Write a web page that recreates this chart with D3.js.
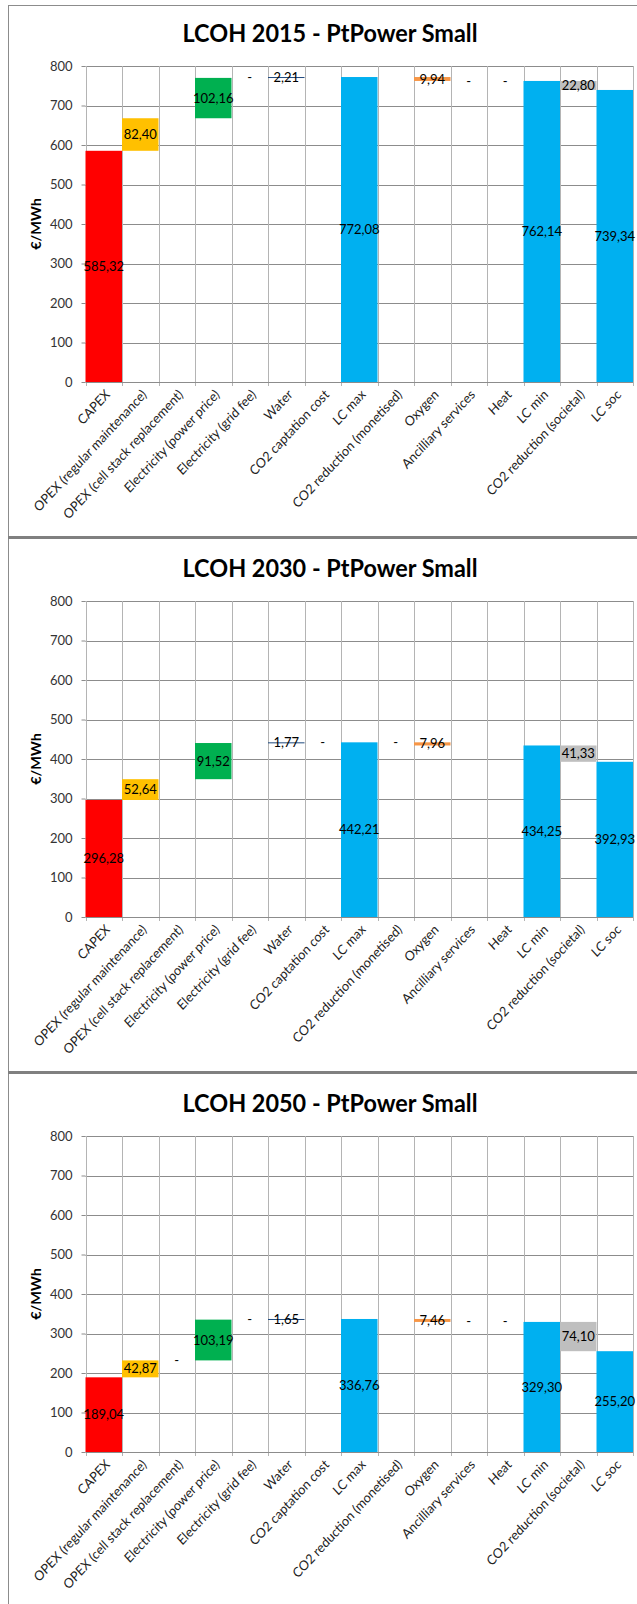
<!DOCTYPE html>
<html>
<head>
<meta charset="utf-8">
<script src="https://cdn.jsdelivr.net/npm/d3@7"></script>
<style>
  html, body { margin: 0; padding: 0; background: #fff; }
  svg { display: block; }
</style>
</head>
<body>
<script>
// Cost categories of the levelised cost of hydrogen (LCOH) waterfall
const categories = [
  "CAPEX",
  "OPEX (regular maintenance)",
  "OPEX (cell stack replacement)",
  "Electricity (power price)",
  "Electricity (grid fee)",
  "Water",
  "CO2 captation cost",
  "LC max",
  "CO2 reduction (monetised)",
  "Oxygen",
  "Ancilliary services",
  "Heat",
  "LC min",
  "CO2 reduction (societal)",
  "LC soc"
];

// How each step moves the running total: add, subtract, or a full total bar
const stepKinds = ["up", "up", "up", "up", "up", "up", "up", "total",
                   "down", "down", "down", "down", "total", "down", "total"];

const stepColors = ["#FF0000", "#FFC000", "#FFC000", "#00B050", "#00B050",
                    "#1F497D", "#7F7F7F", "#00B0F0", "#9BBB59", "#F79646",
                    "#8064A2", "#C0504D", "#00B0F0", "#BFBFBF", "#00B0F0"];

// €/MWh per category (null = no entry, 0 = shown as "-")
const years = ["2015", "2030", "2050"];
const values2015 = [585.32, 82.40, null, 102.16, 0, 2.21, null, 772.08, null, 9.94, 0, 0, 762.14, 22.80, 739.34];
const values2030 = [296.28, 52.64, null, 91.52, null, 1.77, 0, 442.21, 0, 7.96, null, null, 434.25, 41.33, 392.93];
const values2050 = [189.04, 42.87, 0, 103.19, 0, 1.65, null, 336.76, null, 7.46, 0, 0, 329.30, 74.10, 255.20];
const yTicks = [0, 100, 200, 300, 400, 500, 600, 700, 800];

const panels = [
  { year: years[0], values: values2015 },
  { year: years[1], values: values2030 },
  { year: years[2], values: values2050 }
];

const W = 637, H = 1604;
const svg = d3.select("body").append("svg").attr("width", W).attr("height", H);

const panelStep = 535;
const plotLeft = 85.5, plotRight = 633;
const plotTop = 66, plotBottom = 382;
const FONT = "Lato, 'Open Sans', sans-serif";
const stretch = 1.08; // text in these charts is drawn slightly taller than wide

// Chart frames and the shadowed separators between them
const frameColor = "#8c8c8c";
svg.append("line").attr("x1", 8.5).attr("x2", 8.5).attr("y1", 5).attr("y2", H)
  .attr("stroke", frameColor).attr("stroke-width", 1);
svg.append("line").attr("x1", 8).attr("x2", W).attr("y1", 5.5).attr("y2", 5.5)
  .attr("stroke", frameColor).attr("stroke-width", 1);
[536, 1071].forEach(y => {
  svg.append("rect").attr("x", 8).attr("y", y).attr("width", W).attr("height", 3)
    .attr("fill", "#808080");
});

const x = d3.scaleBand().domain(categories).range([plotLeft, plotRight]).paddingInner(0).paddingOuter(0);
const fmt = v => d3.format(".2f")(v).replace(".", ",");

panels.forEach((p, pi) => {
  const g = svg.append("g").attr("transform", `translate(0,${pi * panelStep})`);
  const y = d3.scaleLinear().domain([0, 800]).range([plotBottom, plotTop]);

  // waterfall geometry
  let running = 0;
  const steps = categories.map((c, i) => {
    const v = p.values[i];
    const kind = stepKinds[i];
    let lo, hi;
    if (v === null) {
      lo = hi = running;
    } else if (kind === "total") {
      lo = 0; hi = v; running = v;
    } else if (kind === "up") {
      lo = running; hi = running + v; running = hi;
    } else {
      hi = running; lo = running - v; running = lo;
    }
    return { cat: c, v, lo, hi, color: stepColors[i] };
  });

  // title
  g.append("text")
    .attr("transform", `translate(330,41.5) scale(1,1.08)`)
    .attr("text-anchor", "middle")
    .attr("font-family", FONT)
    .attr("font-weight", "bold")
    .attr("font-size", 22)
    .attr("textLength", 295)
    .attr("lengthAdjust", "spacingAndGlyphs")
    .attr("fill", "#000")
    .text(`LCOH ${p.year} - PtPower Small`);

  // horizontal gridlines
  g.append("g").selectAll("line").data(yTicks.filter(t => t > 0)).join("line")
    .attr("x1", plotLeft).attr("x2", plotRight)
    .attr("y1", d => Math.round(y(d)) + 0.5).attr("y2", d => Math.round(y(d)) + 0.5)
    .attr("stroke", "#8c8c8c").attr("stroke-width", 1);

  // vertical gridlines at category boundaries
  const bounds = categories.map(c => x(c)).concat([plotRight]);
  g.append("g").selectAll("line").data(bounds).join("line")
    .attr("x1", d => Math.round(d) + 0.5).attr("x2", d => Math.round(d) + 0.5)
    .attr("y1", plotTop).attr("y2", plotBottom + 4)
    .attr("stroke", "#b4b4b4").attr("stroke-width", 1);

  // bars
  g.append("g").selectAll("rect").data(steps.filter(s => s.v !== null && s.v > 0)).join("rect")
    .attr("x", d => x(d.cat))
    .attr("width", x.bandwidth())
    .attr("y", d => y(d.hi))
    .attr("height", d => Math.max(1, y(d.lo) - y(d.hi)))
    .attr("fill", d => d.color);

  // y axis (ticks and labels)
  const yAxis = d3.axisLeft(y).tickValues(yTicks).tickSize(4).tickFormat(d3.format("d"));
  const ya = g.append("g").attr("transform", `translate(${plotLeft},0)`).call(yAxis);
  ya.select(".domain").remove();
  ya.selectAll(".tick line").attr("stroke", "#8c8c8c");
  ya.selectAll(".tick text")
    .attr("x", -13)
    .attr("font-family", FONT)
    .attr("font-size", 13)
    .attr("fill", "#333");

  // x axis line
  const xa = g.append("g").attr("transform", `translate(0,${plotBottom})`)
    .call(d3.axisBottom(x).tickSize(0).tickFormat(""));
  xa.select(".domain").attr("stroke", "#8c8c8c").attr("d", `M${plotLeft},0.5H${plotRight}`);

  // rotated category labels
  g.append("g").selectAll("text").data(categories).join("text")
    .attr("transform", d => `translate(${x(d) + x.bandwidth() / 2 + 4},${plotBottom + 10}) scale(1,${stretch}) rotate(-45)`)
    .attr("text-anchor", "end")
    .attr("dy", "0.35em")
    .attr("font-family", FONT)
    .attr("font-size", 12.5)
    .attr("fill", "#222")
    .text(d => d);

  // axis title
  g.append("text")
    .attr("transform", `translate(41,${(plotTop + plotBottom) / 2}) scale(1,1.15) rotate(-90)`)
    .attr("text-anchor", "middle")
    .attr("font-family", FONT)
    .attr("font-weight", "bold")
    .attr("font-size", 12.5)
    .attr("fill", "#000")
    .text("€/MWh");

  // value labels centred on each step
  g.append("g").selectAll("text").data(steps.filter(s => s.v !== null)).join("text")
    .attr("x", d => x(d.cat) + x.bandwidth() / 2)
    .attr("y", d => y((d.lo + d.hi) / 2))
    .attr("dy", "0.35em")
    .attr("text-anchor", "middle")
    .attr("font-family", FONT)
    .attr("font-size", 13)
    .attr("fill", "#000")
    .text(d => d.v === 0 ? "-" : fmt(d.v));
});
</script>
</body>
</html>
